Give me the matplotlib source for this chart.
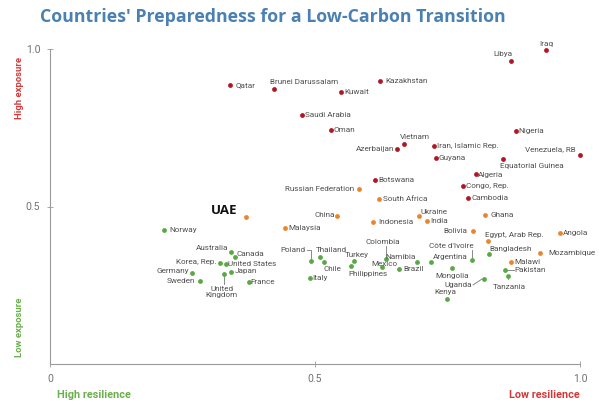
import matplotlib
matplotlib.use("Agg")
import matplotlib.pyplot as plt

# ---------------- data ----------------
countries = [
    "Iraq", "Libya", "Qatar", "Brunei Darussalam", "Kuwait", "Kazakhstan",
    "Saudi Arabia", "Oman", "Vietnam", "Azerbaijan", "Iran, Islamic Rep.",
    "Guyana", "Nigeria", "Venezuela, RB", "Equatorial Guinea", "Algeria",
    "Congo, Rep.", "Cambodia", "Botswana",
    "Russian Federation", "South Africa", "UAE", "China", "Malaysia",
    "Indonesia", "Ukraine", "India", "Ghana", "Bolivia", "Egypt, Arab Rep.",
    "Angola", "Mozambique", "Malawi",
    "Norway", "Australia", "Canada", "Korea, Rep.", "United States",
    "Germany", "United\nKingdom", "Japan", "Sweden", "France", "Poland",
    "Thailand", "Chile", "Italy", "Turkey", "Philippines", "Colombia",
    "Mexico", "Brazil", "Namibia", "Argentina", "Côte d'Ivoire", "Mongolia",
    "Uganda", "Kenya", "Bangladesh", "Pakistan", "Tanzania",
]
resilience = [
    0.936, 0.870, 0.340, 0.423, 0.549, 0.623,
    0.475, 0.530, 0.668, 0.655, 0.725,
    0.728, 0.879, 1.000, 0.855, 0.804,
    0.779, 0.789, 0.613,
    0.583, 0.621, 0.370, 0.542, 0.443,
    0.609, 0.696, 0.711, 0.821, 0.798, 0.826,
    0.962, 0.925, 0.870,
    0.215, 0.342, 0.349, 0.321, 0.332,
    0.268, 0.328, 0.342, 0.283, 0.375, 0.492,
    0.509, 0.517, 0.491, 0.574, 0.568, 0.634,
    0.626, 0.658, 0.692, 0.719, 0.796, 0.758,
    0.819, 0.749, 0.828, 0.858, 0.864,
]
exposure = [
    0.997, 0.962, 0.886, 0.873, 0.863, 0.898,
    0.790, 0.743, 0.698, 0.683, 0.692,
    0.654, 0.740, 0.663, 0.651, 0.603,
    0.565, 0.527, 0.584,
    0.556, 0.524, 0.467, 0.470, 0.432,
    0.451, 0.470, 0.454, 0.473, 0.422, 0.390,
    0.416, 0.352, 0.324,
    0.425, 0.356, 0.340, 0.321, 0.317,
    0.289, 0.286, 0.292, 0.263, 0.260, 0.327,
    0.340, 0.324, 0.273, 0.327, 0.311, 0.333,
    0.308, 0.302, 0.324, 0.324, 0.330, 0.305,
    0.270, 0.206, 0.349, 0.298, 0.279,
]
group = ["high"] * 19 + ["mid"] * 14 + ["low"] * 28

x_ticks = [0, 0.5, 1.0]
x_tick_labels = ["0", "0.5", "1.0"]
y_ticks = [0.5, 1.0]
y_tick_labels = ["0.5", "1.0"]

# ---------------- styles / layout ----------------
colors = {"high": "#b01722", "mid": "#e8862c", "low": "#5aa845"}
# label placement: (dx px, dy px, ha, leader)
label_pos = {
    "Iraq": (0, 6, "center", None),
    "Libya": (-8, 7, "center", None),
    "Qatar": (5, 0, "left", None),
    "Brunei Darussalam": (-4, 7, "left", None),
    "Kuwait": (3, 0, "left", None),
    "Kazakhstan": (5, 0, "left", None),
    "Saudi Arabia": (3, 0, "left", None),
    "Oman": (3, 0, "left", None),
    "Vietnam": (-4, 7, "left", None),
    "Azerbaijan": (-3, 0, "right", None),
    "Iran, Islamic Rep.": (3, 0, "left", None),
    "Guyana": (3, 0, "left", None),
    "Nigeria": (3, 0, "left", None),
    "Venezuela, RB": (-4, 6, "right", None),
    "Equatorial Guinea": (-3, -7, "left", None),
    "Algeria": (2, -1, "left", None),
    "Congo, Rep.": (3, 0, "left", None),
    "Cambodia": (3, 0, "left", None),
    "Botswana": (3, 0, "left", None),
    "Russian Federation": (-5, 0, "right", None),
    "South Africa": (4, 0, "left", None),
    "China": (-2, 1, "right", None),
    "Malaysia": (4, 0, "left", None),
    "Indonesia": (5, 0, "left", None),
    "Ukraine": (2, 4, "left", None),
    "India": (3, 0, "left", None),
    "Ghana": (5, 0, "left", None),
    "Bolivia": (-6, 0, "right", None),
    "Egypt, Arab Rep.": (-3, 6, "left", None),
    "Angola": (3, 0, "left", None),
    "Mozambique": (8, 0, "left", None),
    "Malawi": (3, 0, "left", None),
    "Norway": (5, 0, "left", None),
    "Australia": (-3, 4, "right", None),
    "Canada": (2, 3, "left", None),
    "Korea, Rep.": (-4, 1, "right", None),
    "United States": (2, 0, "left", None),
    "Germany": (-3, 2, "right", None),
    "United\nKingdom": (-2, -18, "center", "v"),
    "Japan": (3, 1, "left", None),
    "Sweden": (-5, 0, "right", None),
    "France": (2, 0, "left", None),
    "Poland": (-5, 11, "right", "elbow"),
    "Thailand": (-4, 7, "left", None),
    "Chile": (-1, -7, "left", None),
    "Italy": (2, 0, "left", None),
    "Turkey": (-9, 6, "left", None),
    "Philippines": (-3, -8, "left", None),
    "Colombia": (-3, 17, "center", "v"),
    "Mexico": (-10, 3, "left", None),
    "Brazil": (5, 0, "left", None),
    "Namibia": (-1, 5, "right", None),
    "Argentina": (2, 5, "left", None),
    "Côte d'Ivoire": (2, 14, "right", "v"),
    "Mongolia": (0, -8, "center", None),
    "Uganda": (-12, -6, "right", "h"),
    "Kenya": (-2, 7, "center", None),
    "Bangladesh": (1, 5, "left", None),
    "Pakistan": (10, 0, "left", "h"),
    "Tanzania": (1, -11, "center", "v"),
}

plt.rcParams['font.family'] = ['Roboto', 'DejaVu Sans']

fig = plt.figure(figsize=(5.99, 4.01), dpi=100)
ax = fig.add_axes([50 / 599, 37 / 401, 530 / 599, 315 / 401])
ax.set_xlim(0, 1.0)
ax.set_ylim(0, 1.0)

for g in ["high", "mid", "low"]:
    xs = [x for x, gg in zip(resilience, group) if gg == g]
    ys = [y for y, gg in zip(exposure, group) if gg == g]
    ax.scatter(xs, ys, s=12, color=colors[g], zorder=3, clip_on=False,
               linewidths=0)

label_color = "#505050"
for name, x, y in zip(countries, resilience, exposure):
    if name == "UAE":
        ax.annotate("UAE", (x, y), xytext=(-9, 6), textcoords="offset pixels",
                    ha="right", va="center", fontsize=9.5, fontweight="bold",
                    color="#111111", family=["Open Sans", "DejaVu Sans"])
        continue
    dx, dy, ha, leader = label_pos[name]
    ax.annotate(name, (x, y), xytext=(dx, dy), textcoords="offset pixels",
                ha=ha, va="center", fontsize=5.9, color=label_color,
                linespacing=1.05, zorder=4)
    if leader is not None:
        trans = ax.transData
        px, py = trans.transform((x, y))
        inv = trans.inverted()
        if leader == "v":
            if dy > 0:
                pts = [(px, py + 2), (px, py + dy - 4)]
            else:
                pts = [(px, py - 2), (px, py + dy + 8)]
        elif leader == "h":
            if dx > 0:
                pts = [(px + 2, py), (px + dx - 1, py)]
            else:
                pts = [(px - 2, py), (px + dx + 1, py + dy)]
        else:  # elbow
            pts = [(px + dx + 1, py + dy), (px, py + dy), (px, py + 2)]
        dpts = [inv.transform(p) for p in pts]
        ax.plot([p[0] for p in dpts], [p[1] for p in dpts], color="#777777",
                lw=0.6, zorder=2, clip_on=False)

# axes styling
for s in ["top", "right"]:
    ax.spines[s].set_visible(False)
for s in ["left", "bottom"]:
    ax.spines[s].set_color("#9a9a9a")
    ax.spines[s].set_linewidth(0.8)
ax.set_xticks(x_ticks)
ax.set_xticklabels(x_tick_labels)
ax.set_yticks(y_ticks)
ax.set_yticklabels(y_tick_labels)
ax.tick_params(axis="both", direction="inout", length=4, width=0.6,
               color="#9a9a9a", labelsize=7.5, labelcolor="#707070", pad=5)

fig.text(40 / 599, 1 - 17 / 401, "Countries' Preparedness for a Low-Carbon Transition",
         fontsize=12.8, fontweight="bold", color="#4a80b2", ha="left", va="center",
         family=["Open Sans", "DejaVu Sans"])

fig.text(20 / 599, 1 - 88 / 401, "High exposure", rotation=90, fontsize=6.8,
         fontweight="bold", color="#d23a3a", ha="center", va="center")
fig.text(20 / 599, 1 - 327 / 401, "Low exposure", rotation=90, fontsize=6.8,
         fontweight="bold", color="#6ab04c", ha="center", va="center")
fig.text(57 / 599, 1 - 395 / 401, "High resilience", fontsize=7.8,
         fontweight="bold", color="#6ab04c", ha="left", va="center")
fig.text(580 / 599, 1 - 395 / 401, "Low resilience", fontsize=7.8,
         fontweight="bold", color="#d23a3a", ha="right", va="center")

fig.savefig("out.png", dpi=100)
